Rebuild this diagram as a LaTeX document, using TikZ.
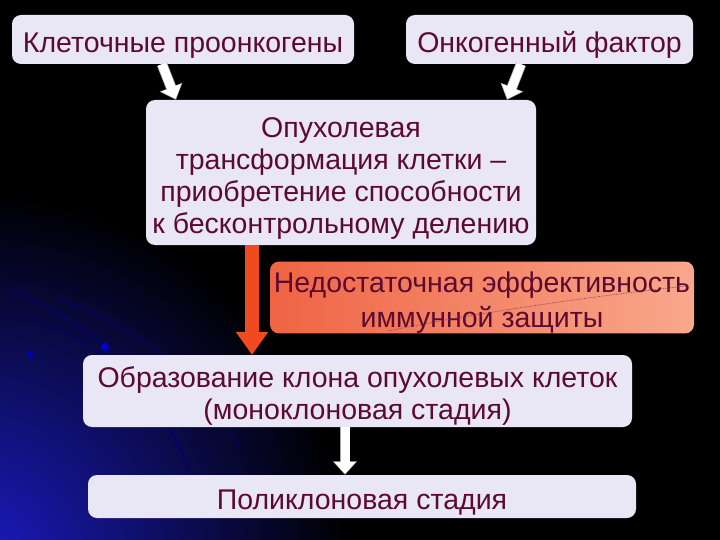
\documentclass[tikz,border=0pt]{standalone}
\usepackage{fontspec}
\setmainfont{Liberation Sans}
\usetikzlibrary{arrows.meta,calc}
\definecolor{boxfill}{HTML}{E9E6F5}
\definecolor{txt}{HTML}{5C0A30}
\definecolor{redarr}{HTML}{F04A20}
\definecolor{orL}{HTML}{EF6444}
\definecolor{orR}{HTML}{F9A88C}
\definecolor{glow}{HTML}{1C1CC8}
\newcommand\tup{\rule{0pt}{31pt}}
\tikzset{
  card/.style={fill=boxfill, rounded corners=9pt, text=txt, align=center,
    inner sep=0pt, font=\fontsize{28.5}{32}\selectfont},
  whitearrow/.style={line width=9pt, white, -{Triangle[width=21pt,length=12pt]}},
  whiteedge/.style={line width=10.5pt, gray!70, -{Triangle[width=23.5pt,length=13.5pt]}},
}
\begin{document}
\begin{tikzpicture}[x=1pt,y=-1pt]
\useasboundingbox (0,0) rectangle (720,540);
\fill[black] (0,0) rectangle (720,540);
% background glow
\begin{scope}
\clip (0,0) rectangle (720,540);
\shade[inner color=glow, outer color=black] (-30,570) circle (380);
\draw[blue!55!black, line width=0.8pt] (10,290) .. controls (90,320) and (150,380) .. (180,450);
\draw[blue!45!black, line width=0.8pt] (30,318) .. controls (110,345) and (160,400) .. (190,470);
\draw[blue!50!black, line width=0.8pt] (60,300) .. controls (150,330) and (210,390) .. (240,450);
\fill[blue!70!black] (30,355) circle (3.5);
\fill[blue!80!black] (105,347) circle (4);
\end{scope}
% boxes
\node[card, minimum width=342pt, minimum height=49pt] (b1) at (183,39.5) {\tup Клеточные проонкогены};
\node[card, minimum width=287pt, minimum height=49pt] (b2) at (549.5,39.5) {\tup Онкогенный фактор};
\node[card, minimum width=390pt, minimum height=145pt] (big) at (341,172.5)
  {\tup Опухолевая\\трансформация клетки –\\приобретение способности\\к бесконтрольному делению};
\node[card, fill=none, left color=orL, right color=orR, minimum width=424pt, minimum height=65pt,
  font=\fontsize{28.5}{35}\selectfont] (imm) at (482,297.5)
  {\tup Недостаточная эффективность\\иммунной защиты};
\draw[txt!80, densely dotted, line width=0.7pt] (686,286) .. controls (560,300) and (450,318) .. (388,331);
\node[card, minimum width=549pt, minimum height=72pt] (clone) at (357.5,391)
  {\tup Образование клона опухолевых клеток\\(моноклоновая стадия)};
\node[card, minimum width=548pt, minimum height=43pt] (poly) at (362,496.5) {\tup Поликлоновая стадия};
% arrow coordinates
\coordinate (a1) at (162,0);
\coordinate (a2) at (176,0);
\coordinate (c1) at (521,0);
\coordinate (c2) at (507,0);
\coordinate (rx) at (252,0);
\coordinate (wx) at (345,0);
% arrows
\draw[whiteedge] (b1.south -| a1) -- (big.north -| a2);
\draw[whitearrow, shorten >=1pt] (b1.south -| a1) -- (big.north -| a2);
\draw[whiteedge] (b2.south -| c1) -- (big.north -| c2);
\draw[whitearrow, shorten >=1pt] (b2.south -| c1) -- (big.north -| c2);
\draw[redarr, line width=14pt, -{Triangle[width=31pt,length=23pt]}] (big.south -| rx) -- (clone.north -| rx);
\draw[whiteedge] (clone.south -| wx) -- (poly.north -| wx);
\draw[whitearrow, shorten >=1pt] (clone.south -| wx) -- (poly.north -| wx);
\end{tikzpicture}
\end{document}
